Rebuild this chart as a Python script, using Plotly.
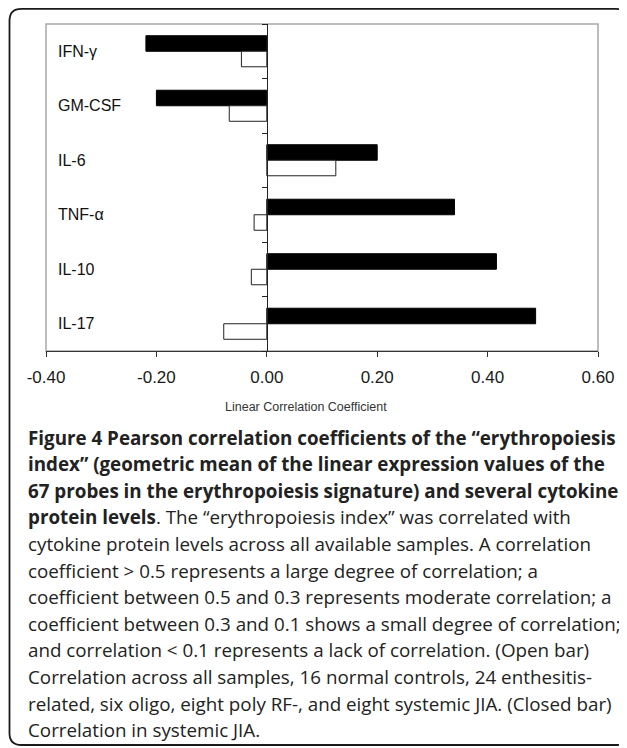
import plotly.graph_objects as go

# ---------------- data ----------------
cytokines = ["IFN-γ", "GM-CSF", "IL-6", "TNF-α", "IL-10", "IL-17"]
systemic_jia = [-0.219, -0.200, 0.200, 0.340, 0.416, 0.487]      # closed bars
all_samples = [-0.046, -0.068, 0.125, -0.023, -0.028, -0.078]    # open bars
x_ticks = [-0.4, -0.2, 0.0, 0.2, 0.4, 0.6]
x_tick_labels = ["-0.40", "-0.20", "0.00", "0.20", "0.40", "0.60"]
x_title = "Linear Correlation Coefficient"

caption_lines = [
    "<b>Figure 4 Pearson correlation coefficients of the “erythropoiesis</b>",
    "<b>index” (geometric mean of the linear expression values of the</b>",
    "<b>67 probes in the erythropoiesis signature) and several cytokine</b>",
    "<b>protein levels</b>. The “erythropoiesis index” was correlated with",
    "cytokine protein levels across all available samples. A correlation",
    "coefficient &gt; 0.5 represents a large degree of correlation; a",
    "coefficient between 0.5 and 0.3 represents moderate correlation; a",
    "coefficient between 0.3 and 0.1 shows a small degree of correlation;",
    "and correlation &lt; 0.1 represents a lack of correlation. (Open bar)",
    "Correlation across all samples, 16 normal controls, 24 enthesitis-",
    "related, six oligo, eight poly RF-, and eight systemic JIA. (Closed bar)",
    "Correlation in systemic JIA.",
]

# ---------------- geometry ----------------
# the page body adds an 8px offset; figure sized to fill the rest of the window
OFF = 8
W, H = 627 - OFF, 748 - OFF
ML, MR, MT, MB = 38, 20, 16, 397
PL, PR = ML, W - MR          # figure-pixel plot edges
PT, PB = MT, H - MB


def px_x(page_x):
    return (page_x - OFF - PL) / (PR - PL)


def px_y(page_y):
    return (PB - (page_y - OFF)) / (PB - PT)


fig = go.Figure()
fig.add_trace(go.Bar(
    y=cytokines, x=systemic_jia, orientation="h", name="Systemic JIA",
    marker=dict(color="#000000", line=dict(color="#000000", width=1)),
))
fig.add_trace(go.Bar(
    y=cytokines, x=all_samples, orientation="h", name="All samples",
    marker=dict(color="#ffffff", line=dict(color="#222222", width=1)),
))

n = len(cytokines)
boundaries = [i - 0.5 for i in range(n + 1)]
zero_pos = (0 - x_ticks[0]) / (x_ticks[-1] - x_ticks[0])

fig.update_layout(
    width=W, height=H,
    margin=dict(l=ML, r=MR, t=MT, b=MB, pad=0),
    paper_bgcolor="white", plot_bgcolor="white",
    showlegend=False,
    barmode="group", bargap=0.43, bargroupgap=0,
    xaxis=dict(
        range=[x_ticks[0], x_ticks[-1]], tickmode="array", tickvals=x_ticks,
        ticktext=x_tick_labels, ticks="outside", ticklen=5, tickcolor="#333333",
        ticklabelstandoff=6,
        showline=True, linecolor="#333333", linewidth=1,
        showgrid=False, zeroline=False,
        tickfont=dict(family="Liberation Sans, Arial", size=17, color="#1a1a1a"),
    ),
    yaxis=dict(
        type="category", categoryarray=cytokines, categoryorder="array",
        range=[n - 0.5, -0.5], anchor="free", position=0, side="right",
        showgrid=False, zeroline=False, showline=False,
        ticks="", ticklabelstandoff=11,
        tickfont=dict(family="Liberation Sans, Arial", size=16, color="#111111"),
    ),
    yaxis2=dict(
        overlaying="y", anchor="free", position=zero_pos,
        side="left", range=[n - 0.5, -0.5], tickmode="array", tickvals=boundaries,
        ticks="outside", ticklen=5, tickcolor="#222222",
        showticklabels=False, showline=True, linecolor="#222222", linewidth=1,
        showgrid=False, zeroline=False,
    ),
)

# hidden helper trace so the zero-line axis exists
fig.add_trace(go.Scatter(x=[0], y=[0], yaxis="y2", mode="markers",
                         marker=dict(opacity=0), hoverinfo="skip", showlegend=False))

# plot-area border (grey)
fig.add_shape(type="rect", xref="paper", yref="paper", x0=0, x1=1, y0=0, y1=1,
              line=dict(color="#a8a8a8", width=1.5), layer="below")

# rounded outer frame (page pixels)
fx0, fx1, fy0, fy1, r = 8.9, 637, 8.9, 745, 12
path = (f"M {px_x(fx0 + r)},{px_y(fy0)} L {px_x(fx1 - r)},{px_y(fy0)} "
        f"Q {px_x(fx1)},{px_y(fy0)} {px_x(fx1)},{px_y(fy0 + r)} "
        f"L {px_x(fx1)},{px_y(fy1 - r)} Q {px_x(fx1)},{px_y(fy1)} {px_x(fx1 - r)},{px_y(fy1)} "
        f"L {px_x(fx0 + r)},{px_y(fy1)} Q {px_x(fx0)},{px_y(fy1)} {px_x(fx0)},{px_y(fy1 - r)} "
        f"L {px_x(fx0)},{px_y(fy0 + r)} Q {px_x(fx0)},{px_y(fy0)} {px_x(fx0 + r)},{px_y(fy0)} Z")
fig.add_shape(type="path", xref="paper", yref="paper", path=path,
              line=dict(color="#1a1a1a", width=1.8), layer="above")

# axis title
fig.add_annotation(text=x_title, xref="paper", yref="paper", x=px_x(310), y=px_y(407),
                   xanchor="center", yanchor="middle", showarrow=False,
                   font=dict(family="Liberation Sans, Arial", size=12.5, color="#333333"))

# caption
y0, dy = 437.5, 26.6
for i, line in enumerate(caption_lines):
    fig.add_annotation(text=line, xref="paper", yref="paper", x=px_x(26), y=px_y(y0 + i * dy),
                       xanchor="left", yanchor="middle", showarrow=False, align="left",
                       font=dict(family="Open Sans", size=18.8, color="#222222"))

fig.write_html("out.html")
